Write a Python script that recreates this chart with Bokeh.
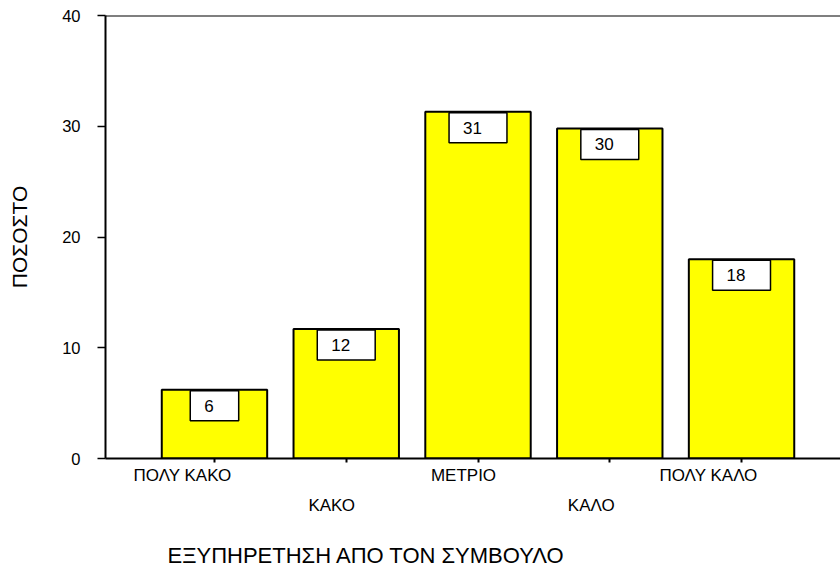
from bokeh.plotting import figure
from bokeh.models import (Range1d, FixedTicker, Label, Span, LinearAxis, Title,
                          CustomJSTickFormatter)
from bokeh.embed import file_html
from bokeh.resources import INLINE

# ---- data ----
categories = ["ΠΟΛΥ ΚΑΚΟ", "ΚΑΚΟ", "ΜΕΤΡΙΟ", "ΚΑΛΟ", "ΠΟΛΥ ΚΑΛΟ"]
percent = [6.2, 11.7, 31.3, 29.8, 18.0]
bar_labels = ["6", "12", "31", "30", "18"]
y_ticks = [0, 10, 20, 30, 40]
x_title = "ΕΞΥΠΗΡΕΤΗΣΗ ΑΠΟ ΤΟΝ ΣΥΜΒΟΥΛΟ"
y_title = "ΠΟΣΟΣΤΟ"

# ---- layout / style ----
FONT = "Liberation Sans"
W, H = 840, 570
LEFT, TOP, BOTTOM = 105, 15, 112
X0, X1 = 0.173, 5.751
label_shift_px = [-32, -14.5, -14.5, -18.5, -33]   # horizontal nudge of each category label

positions = list(range(1, len(categories) + 1))
px_per_unit = (W - LEFT) / (X1 - X0)

p = figure(width=W, height=H, output_backend="svg", toolbar_location=None,
           x_range=Range1d(X0, X1), y_range=Range1d(0, 40),
           min_border_left=LEFT, min_border_right=0, min_border_top=TOP,
           min_border_bottom=BOTTOM)
p.grid.visible = False
p.outline_line_color = None
p.background_fill_color = "white"

# bars
p.vbar(x=positions, top=percent, bottom=0, width=0.8,
       fill_color="#FFFF00", line_color="black", line_width=2)

# top frame line
p.add_layout(Span(location=40, dimension="width", line_color="black", line_width=2))

# y axis
ya = p.yaxis[0]
ya.ticker = FixedTicker(ticks=y_ticks)
ya.axis_line_width = 2
ya.axis_line_color = "black"
ya.major_tick_out = 8
ya.major_tick_in = 0
ya.major_tick_line_width = 1.5
ya.major_tick_line_color = "black"
ya.minor_tick_line_color = None
ya.major_label_standoff = 17
ya.major_label_text_font = FONT
ya.major_label_text_font_size = "16.5px"
ya.major_label_text_color = "black"
ya.axis_label = y_title
ya.axis_label_text_font = FONT
ya.axis_label_text_font_size = "21px"
ya.axis_label_text_font_style = "normal"
ya.axis_label_text_color = "black"
ya.axis_label_standoff = 28

# x axis: tick marks only
xa = p.xaxis[0]
xa.ticker = FixedTicker(ticks=positions)
xa.major_label_overrides = {i: "" for i in positions}
xa.major_label_text_font_size = "0px"
xa.major_label_standoff = 0
xa.axis_line_width = 2
xa.axis_line_color = "black"
xa.major_tick_out = 4
xa.major_tick_in = 0
xa.major_tick_line_width = 2
xa.major_tick_line_color = "black"
xa.minor_tick_line_color = None


def label_axis(idx, standoff):
    names = [categories[i] for i in idx]
    ticks = [positions[i] + label_shift_px[i] / px_per_unit for i in idx]
    ax = LinearAxis(ticker=FixedTicker(ticks=ticks),
                    formatter=CustomJSTickFormatter(args=dict(labels=names),
                                                    code="return labels[index];"))
    ax.axis_line_color = None
    ax.major_tick_line_color = None
    ax.minor_tick_line_color = None
    ax.major_tick_out = 0
    ax.major_tick_in = 0
    ax.major_label_standoff = standoff
    ax.major_label_text_font = FONT
    ax.major_label_text_font_size = "17px"
    ax.major_label_text_color = "black"
    return ax


p.add_layout(label_axis([0, 2, 4], 3), "below")
p.add_layout(label_axis([1, 3], 8), "below")

# x title
p.add_layout(Title(text=x_title, align="left", offset=62, standoff=2,
                   padding=dict(left=0, right=0, top=22, bottom=0),
                   text_font=FONT, text_font_size="22px",
                   text_font_style="normal", text_color="black"), "below")

# value boxes at the top of each bar
for pos, val, txt in zip(positions, percent, bar_labels):
    p.add_layout(Label(x=pos, y=val, text=txt, x_offset=0, y_offset=-16,
                       text_align="center", text_baseline="middle",
                       text_font=FONT, text_font_size="17px", text_color="black",
                       background_fill_color="white", border_line_color="black",
                       border_line_width=1.5,
                       padding=dict(left=14, right=25, top=9, bottom=9)))

open("out.html", "w").write(file_html(p, INLINE))
